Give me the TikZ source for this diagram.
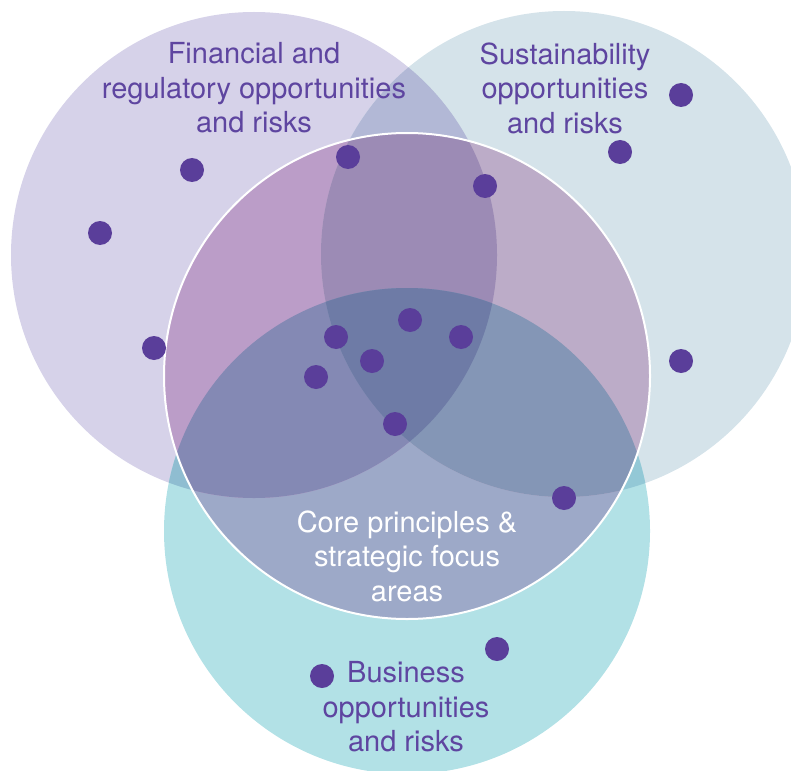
\documentclass[tikz,border=0pt]{standalone}
\usepackage{fontspec}
\setmainfont{TeX Gyre Heros}
\definecolor{Lc}{HTML}{D6D2E9}
\definecolor{Rc}{HTML}{D5E3EA}
\definecolor{Bc}{HTML}{B2E1E6}
\definecolor{LRc}{HTML}{B2B8D6}
\definecolor{LBc}{HTML}{8FBDD1}
\definecolor{RBc}{HTML}{93C8D6}
\definecolor{BCc}{HTML}{9DA9C8}
\definecolor{LCc}{HTML}{BB9DC8}
\definecolor{RCc}{HTML}{BCACC8}
\definecolor{LRCc}{HTML}{9C8BB5}
\definecolor{LBCc}{HTML}{8489B4}
\definecolor{RBCc}{HTML}{8496B6}
\definecolor{LRBCc}{HTML}{6E7BA6}
\definecolor{dotc}{HTML}{5A3E9A}
\definecolor{txtc}{HTML}{5E45A0}
\tikzset{
  dotnode/.style={circle,fill=dotc,inner sep=0pt,minimum size=24pt},
  lbl/.style={align=center,text=txtc,inner sep=0pt,font=\fontsize{29}{34.5}\selectfont},
  corelbl/.style={lbl,text=white}
}
\begin{document}
\begin{tikzpicture}[x=1pt,y=-1pt]
\useasboundingbox (0,0) rectangle (791,770);
\coordinate (cL) at (254,255);
\coordinate (cR) at (564,254);
\coordinate (cB) at (407,531);
\coordinate (cC) at (407,376);
\def\rr{243pt}
% outer circles
\fill[Lc] (cL) circle[radius=\rr];
\fill[Rc] (cR) circle[radius=\rr];
\fill[Bc] (cB) circle[radius=\rr];
\begin{scope}\clip (cL) circle[radius=\rr]; \fill[LRc] (cR) circle[radius=\rr];\end{scope}
\begin{scope}\clip (cL) circle[radius=\rr]; \fill[LBc] (cB) circle[radius=\rr];\end{scope}
\begin{scope}\clip (cR) circle[radius=\rr]; \fill[RBc] (cB) circle[radius=\rr];\end{scope}
% core circle regions
\begin{scope}
  \clip (cC) circle[radius=\rr];
  \fill[BCc] (cC) circle[radius=\rr];
  \fill[LCc] (cL) circle[radius=\rr];
  \fill[RCc] (cR) circle[radius=\rr];
  \begin{scope}\clip (cL) circle[radius=\rr]; \fill[LRCc] (cR) circle[radius=\rr];\end{scope}
  \begin{scope}\clip (cB) circle[radius=\rr]; \fill[LBCc] (cL) circle[radius=\rr];\end{scope}
  \begin{scope}\clip (cB) circle[radius=\rr]; \fill[RBCc] (cR) circle[radius=\rr];\end{scope}
  \begin{scope}\clip (cB) circle[radius=\rr]; \clip (cL) circle[radius=\rr]; \fill[LRBCc] (cR) circle[radius=\rr];\end{scope}
\end{scope}
\draw[white,line width=2pt] (cC) circle[radius=\rr];
% dots
\node[dotnode] (d1) at (192,170) {};
\node[dotnode] (d2) at (100,233) {};
\node[dotnode] (d3) at (348,157) {};
\node[dotnode] (d4) at (485,186) {};
\node[dotnode] (d5) at (620,152) {};
\node[dotnode] (d6) at (681,95) {};
\node[dotnode] (d7) at (154,348) {};
\node[dotnode] (d8) at (336,337) {};
\node[dotnode] (d9) at (410,320) {};
\node[dotnode] (d10) at (461,337) {};
\node[dotnode] (d11) at (372,361) {};
\node[dotnode] (d12) at (316,377) {};
\node[dotnode] (d13) at (395,424) {};
\node[dotnode] (d14) at (681,361) {};
\node[dotnode] (d15) at (564,498) {};
\node[dotnode] (d16) at (497,649) {};
\node[dotnode] (d17) at (322,676) {};
% labels
\node[lbl] (tL) at (254,88) {Financial and\\regulatory opportunities\\and risks};
\node[lbl] (tR) at (565,88) {Sustainability\\opportunities\\and risks};
\node[corelbl] (tC) at (407,556) {Core principles \&\\strategic focus\\areas};
\node[lbl] (tB) at (406,707) {Business\\opportunities\\and risks};
\end{tikzpicture}
\end{document}
